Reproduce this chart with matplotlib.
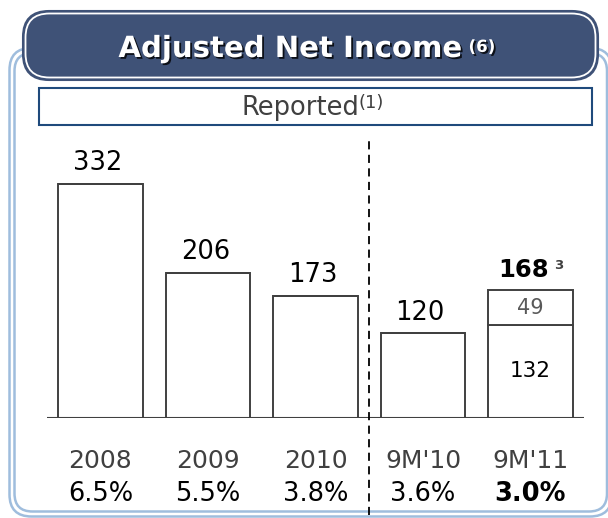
import numpy as np
import matplotlib
matplotlib.use("Agg")
import matplotlib.pyplot as plt
import matplotlib.patheffects as pe
from matplotlib.patches import FancyBboxPatch
from matplotlib.transforms import blended_transform_factory

# data
periods = ["2008", "2009", "2010", "9M'10", "9M'11"]
net_income = [332, 206, 173, 120, 132]
extra = [0, 0, 0, 0, 49]
labels = ["332", "206", "173", "120", "168"]
margins = ["6.5%", "5.5%", "3.8%", "3.6%", "3.0%"]

navy = "#3f5277"
frame_blue = "#9fbddd"
dark = "#404040"

W, H = 608, 518
fig = plt.figure(figsize=(W / 100, H / 100), dpi=100)
fig.patch.set_facecolor("white")

# background decoration in pixel coords
bg = fig.add_axes([0, 0, 1, 1], zorder=0)
bg.set_xlim(0, W)
bg.set_ylim(H, 0)
bg.axis("off")


def rbox(x0, y0, x1, y1, r, **kw):
    p = FancyBboxPatch((x0, y0), x1 - x0, y1 - y0,
                       boxstyle="round,pad=0,rounding_size=%g" % r, **kw)
    bg.add_patch(p)
    return p


# outer light blue double frame
rbox(9.5, 48, 612, 516.5, 22, fc="white", ec=frame_blue, lw=1.8)
rbox(14.5, 53, 607, 511.5, 18, fc="none", ec=frame_blue, lw=1.8)

# header pill
rbox(23, 11, 598, 80, 26, fc=navy, ec=navy, lw=1.5, zorder=3)
rbox(25.5, 13.5, 595.5, 77.5, 24, fc=navy, ec="white", lw=1.3, zorder=4)

# "Reported" box
rbox(39, 88, 592, 125, 0, fc="white", ec="#1f4a7c", lw=1.5, zorder=3)

shadow = [pe.withSimplePatchShadow(offset=(1.3, -1.3), shadow_rgbFace="black",
                                   alpha=0.8)]
t = bg.text(290, 57, "Adjusted Net Income", color="white", fontsize=21,
            fontweight="bold", ha="center", va="baseline", zorder=6,
            path_effects=shadow)
bg.annotate("(6)", xy=(1, 0), xycoords=t, xytext=(5, 8), textcoords="offset points",
            color="white", fontsize=12, fontweight="bold", ha="left", va="baseline",
            zorder=6, path_effects=shadow)

r = bg.text(300, 115, "Reported", color=dark, fontsize=18.5, ha="center",
            va="baseline", zorder=6)
bg.annotate("(1)", xy=(1, 0), xycoords=r, xytext=(0, 9), textcoords="offset points",
            color=dark, fontsize=13, ha="left", va="baseline", zorder=6)

# main chart
ax = fig.add_axes([46.75 / W, 100 / H, 537.5 / W, 278 / H], zorder=2)
ax.patch.set_alpha(0)
ax.set_xlim(-0.5, 4.5)
ax.set_ylim(0, 394.4)
ax.axis("off")

x = np.arange(len(periods))
ax.bar(x, net_income, width=0.785, color="white", edgecolor=dark, linewidth=1.4,
       zorder=3)
ax.bar(x, extra, bottom=net_income, width=0.785, color="white", edgecolor=dark,
       linewidth=1.4, zorder=3)
ax.axhline(0, color=dark, lw=1.5, zorder=4)

# dashed separator between full years and nine-month periods
ax.plot([2.5, 2.5], [-138, 394.4], color="black", lw=1.3, ls=(0, (4.5, 3)),
        clip_on=False, zorder=5)

tops = [a + b for a, b in zip(net_income, extra)]
for i, (lab, top) in enumerate(zip(labels, tops)):
    last = i == len(labels) - 1
    a = ax.annotate(lab, xy=(i, top), xytext=(-5 if last else -2, 10),
                    textcoords="offset points", ha="center", va="baseline",
                    fontsize=17.5 if last else 18.5,
                    fontweight="bold" if last else "normal", color="black")
    if last:
        ax.annotate("3", xy=(1, 0), xycoords=a, xytext=(4, 9),
                    textcoords="offset points", ha="left", va="baseline",
                    fontsize=9.5, fontweight="bold", color=dark)

# inside labels of the stacked 9M'11 bar
ax.text(4, net_income[4] / 2, str(net_income[4]), ha="center", va="center",
        fontsize=15.5, color="black", zorder=5)
ax.text(4, net_income[4] + extra[4] / 2, str(extra[4]), ha="center", va="center",
        fontsize=15, color="#595959", zorder=5)

tr = blended_transform_factory(ax.transData, fig.transFigure)
for i, (p, m) in enumerate(zip(periods, margins)):
    ax.text(i, 50 / H, p, transform=tr, ha="center", va="baseline",
            fontsize=18, color=dark)
    ax.text(i, 17 / H, m, transform=tr, ha="center", va="baseline",
            fontsize=18.5, color="black",
            fontweight="bold" if i == len(margins) - 1 else "normal")

fig.savefig("out.png", dpi=100)
